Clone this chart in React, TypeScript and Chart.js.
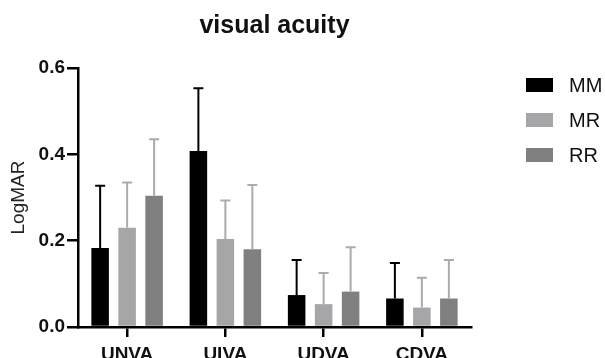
import React, { useEffect, useRef } from "react";
import { Chart, registerables } from "chart.js";

Chart.register(...registerables);

const title = "visual acuity";
const categories = ["UNVA", "UIVA", "UDVA", "CDVA"];
const seriesNames = ["MM", "MR", "RR"];
const mmMeans = [0.183, 0.408, 0.074, 0.066];
const mrMeans = [0.23, 0.204, 0.053, 0.045];
const rrMeans = [0.304, 0.18, 0.082, 0.066];
const mmSD = [0.144, 0.145, 0.081, 0.082];
const mrSD = [0.105, 0.089, 0.072, 0.069];
const rrSD = [0.131, 0.149, 0.103, 0.089];
const yTicks = [0, 0.2, 0.4, 0.6];
const yTitle = "LogMAR";

const barColors = ["#000000", "#a6a6a8", "#808080"];
const whiskerColors = ["#000000", "#ababab", "#ababab"];
const FONT = "'Liberation Sans', Arial, Helvetica, sans-serif";

const errorBarPlugin = {
  id: "errorBars",
  afterDatasetsDraw(chart: any) {
    const ctx = chart.ctx;
    const yScale = chart.scales.y;
    chart.data.datasets.forEach((ds: any, di: number) => {
      const meta = chart.getDatasetMeta(di);
      meta.data.forEach((bar: any, i: number) => {
        const top = yScale.getPixelForValue(ds.data[i] + ds.sd[i]);
        ctx.save();
        ctx.strokeStyle = ds.whisker;
        ctx.lineWidth = 2;
        ctx.beginPath();
        ctx.moveTo(bar.x, bar.y);
        ctx.lineTo(bar.x, top);
        ctx.moveTo(bar.x - 5, top);
        ctx.lineTo(bar.x + 5, top);
        ctx.stroke();
        ctx.restore();
      });
    });
  },
};

const legendPlugin = {
  id: "customLegend",
  afterDraw(chart: any) {
    const ctx = chart.ctx;
    ctx.save();
    chart.data.datasets.forEach((ds: any, i: number) => {
      const cy = 85 + i * 35;
      ctx.fillStyle = ds.backgroundColor;
      ctx.fillRect(526, cy - 7, 27, 14);
      ctx.fillStyle = "#111";
      ctx.font = `20px ${FONT}`;
      ctx.textBaseline = "middle";
      ctx.textAlign = "left";
      ctx.fillText(ds.label, 569, cy + 1);
    });
    ctx.restore();
  },
};

export default function App() {
  const ref = useRef<HTMLCanvasElement | null>(null);
  useEffect(() => {
    if (!ref.current) return;
    const means = [mmMeans, mrMeans, rrMeans];
    const sds = [mmSD, mrSD, rrSD];
    const chart = new Chart(ref.current, {
      type: "bar",
      data: {
        labels: categories,
        datasets: seriesNames.map((name, i) => ({
          label: name,
          data: means[i],
          sd: sds[i],
          whisker: whiskerColors[i],
          backgroundColor: barColors[i],
          borderWidth: 0,
          barPercentage: 0.65,
          categoryPercentage: 0.824,
        })) as any,
      },
      options: {
        responsive: false,
        animation: false,
        layout: { padding: { top: 0, left: 0, right: 134, bottom: 0 } },
        plugins: {
          legend: { display: false },
          tooltip: { enabled: false },
          title: {
            display: true,
            text: title,
            fullSize: false,
            color: "#111",
            font: { family: FONT, size: 25, weight: "bold" },
            padding: { top: 11, bottom: 27 },
          },
        },
        scales: {
          x: {
            offset: true,
            grid: {
              offset: false,
              drawOnChartArea: false,
              drawTicks: true,
              tickLength: 10,
              color: "#000",
              lineWidth: 2.5,
            },
            border: { display: true, color: "#000", width: 2.5 },
            ticks: {
              color: "#111",
              padding: 6,
              font: { family: FONT, size: 19, weight: "bold" },
            },
            afterFit(scale: any) {
              scale.height = 31;
            },
          },
          y: {
            min: 0,
            max: 0.6,
            afterBuildTicks(scale: any) {
              scale.ticks = yTicks.map((v) => ({ value: v }));
            },
            grid: {
              drawOnChartArea: false,
              drawTicks: true,
              tickLength: 11,
              color: "#000",
              lineWidth: 2.5,
            },
            border: { display: true, color: "#000", width: 2.5 },
            ticks: {
              color: "#111",
              padding: 2,
              font: { family: FONT, size: 19, weight: "bold" },
              callback: (v: any) => Number(v).toFixed(1),
            },
            title: {
              display: true,
              text: yTitle,
              color: "#222",
              font: { family: FONT, size: 19 },
              padding: { top: 7, bottom: 0 },
            },
            afterFit(scale: any) {
              scale.width = 78;
            },
          },
        },
      },
      plugins: [errorBarPlugin, legendPlugin],
    });
    return () => chart.destroy();
  }, []);
  return (
    <div style={{ position: "fixed", left: 0, top: 0, width: 605, height: 358, background: "#fff" }}>
      <canvas ref={ref} width={605} height={358} />
    </div>
  );
}
